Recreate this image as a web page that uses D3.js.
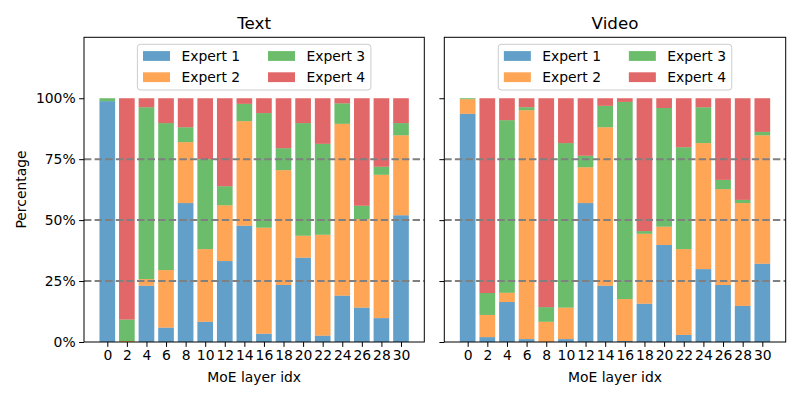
<!DOCTYPE html>
<html>
<head>
<meta charset="utf-8">
<script src="https://cdn.jsdelivr.net/npm/d3@7"></script>
<style>
  body { margin: 0; background: #fff; }
  svg { font-family: "DejaVu Sans", sans-serif; }
</style>
</head>
<body>
<script>
var layers = [0, 2, 4, 6, 8, 10, 12, 14, 16, 18, 20, 22, 24, 26, 28, 30];
var experts = ['Expert 1', 'Expert 2', 'Expert 3', 'Expert 4'];
var colors = ['#1f77b4', '#ff7f0e', '#2ca02c', '#d62728'];
var yTicks = [0, 25, 50, 75, 100];
var refLines = [25, 50, 75];

// percentages
var textE1 = [98.8, 0, 23.1, 5.9, 57.0, 8.3, 33.2, 47.7, 3.4, 23.4, 34.6, 2.6, 19.0, 14.1, 9.8, 52.0];
var textE2 = [0, 0.4, 2.7, 23.6, 25.0, 29.8, 22.9, 42.9, 43.5, 47.1, 9.0, 41.4, 70.5, 36.3, 58.8, 32.8];
var textE3 = [1.2, 8.8, 70.5, 60.3, 6.1, 36.9, 7.8, 7.1, 47.0, 9.0, 46.2, 37.3, 8.4, 5.5, 3.3, 5.0];
var textE4 = [0, 90.8, 3.7, 10.2, 11.9, 25.0, 36.1, 2.3, 6.1, 20.5, 10.2, 18.7, 2.1, 44.1, 28.1, 10.2];

var videoE1 = [93.6, 2.0, 16.4, 1.2, 0, 1.2, 57.0, 23.1, 0.4, 15.7, 39.8, 2.9, 29.9, 23.4, 14.8, 32.1];
var videoE2 = [6.0, 9.1, 3.8, 93.9, 8.3, 12.9, 14.7, 65.0, 17.2, 28.7, 7.5, 35.2, 51.7, 39.3, 42.2, 52.7];
var videoE3 = [0.4, 9.0, 70.8, 1.2, 6.0, 67.5, 4.7, 8.8, 80.9, 1.1, 48.7, 41.8, 14.7, 3.8, 1.3, 1.4];
var videoE4 = [0, 79.9, 9.0, 3.7, 85.7, 18.4, 23.6, 3.1, 1.5, 54.5, 4.0, 20.1, 3.7, 33.5, 41.7, 13.8];

var width = 800, height = 400;
var plotTop = 37.3, plotBottom = 342;

var svg = d3.select('body').append('svg')
    .attr('width', width)
    .attr('height', height);

var y = d3.scaleLinear().domain([0, 125]).range([plotBottom, plotTop]);

function rows(series) {
    return layers.map(function (l, i) {
        var r = { layer: l, idx: i };
        experts.forEach(function (e, k) { r[e] = series[k][i]; });
        return r;
    });
}

function panel(left, right, title, series, showLabels) {
    var g = svg.append('g');
    var x = d3.scaleLinear().domain([-1.19, 16.19]).range([left, right]);
    var bw = x(0.8) - x(0);

    var stack = d3.stack().keys(experts)(rows(series));

    stack.forEach(function (layer, k) {
        g.append('g')
            .attr('fill', colors[k])
            .attr('fill-opacity', 0.7)
            .selectAll('rect')
            .data(layer)
            .join('rect')
            .attr('x', function (d) { return x(d.data.idx) - bw / 2; })
            .attr('width', bw)
            .attr('y', function (d) { return y(d[1]); })
            .attr('height', function (d) { return y(d[0]) - y(d[1]); });
    });

    g.selectAll('line.ref')
        .data(refLines)
        .join('line')
        .attr('class', 'ref')
        .attr('x1', left).attr('x2', right)
        .attr('y1', function (d) { return y(d); })
        .attr('y2', function (d) { return y(d); })
        .attr('stroke', '#808080')
        .attr('stroke-width', 2)
        .attr('stroke-dasharray', '7.4,3.2');

    // frame
    g.append('rect')
        .attr('x', left).attr('y', plotTop)
        .attr('width', right - left).attr('height', plotBottom - plotTop)
        .attr('fill', 'none').attr('stroke', '#000').attr('stroke-width', 1);

    var xAxis = d3.axisBottom(x)
        .tickValues(d3.range(layers.length))
        .tickFormat(function (i) { return layers[i]; })
        .tickSize(4.9).tickPadding(3.5);
    var xg = g.append('g').attr('transform', 'translate(0,' + plotBottom + ')').call(xAxis);
    xg.select('.domain').remove();
    xg.selectAll('text').attr('font-size', 13.9).attr('fill', '#000')
        .attr('font-family', 'DejaVu Sans');
    xg.selectAll('line').attr('stroke', '#000');

    var yAxis = d3.axisLeft(y)
        .tickValues(yTicks)
        .tickFormat(function (d) { return showLabels ? d + '%' : ''; })
        .tickSize(4.9).tickPadding(3.5);
    var yg = g.append('g').attr('transform', 'translate(' + left + ',0)').call(yAxis);
    yg.select('.domain').remove();
    yg.selectAll('text').attr('font-size', 13.9).attr('fill', '#000')
        .attr('font-family', 'DejaVu Sans');
    yg.selectAll('line').attr('stroke', '#000');

    var cx = (left + right) / 2;
    g.append('text')
        .attr('x', cx).attr('y', 29)
        .attr('text-anchor', 'middle')
        .attr('font-size', 16.7)
        .text(title);

    g.append('text')
        .attr('x', cx).attr('y', 382)
        .attr('text-anchor', 'middle')
        .attr('font-size', 13.9)
        .text('MoE layer idx');

    // legend
    var lw = 233.5, lh = 45.7;
    var lg = g.append('g').attr('transform', 'translate(' + (cx - lw / 2) + ',44.3)');
    lg.append('rect')
        .attr('width', lw).attr('height', lh)
        .attr('rx', 3).attr('ry', 3)
        .attr('fill', '#fff').attr('fill-opacity', 0.8)
        .attr('stroke', '#cccccc').attr('stroke-width', 1);
    var items = lg.selectAll('g.item')
        .data(experts)
        .join('g')
        .attr('class', 'item')
        .attr('transform', function (d, i) {
            var col = Math.floor(i / 2), row = i % 2;
            return 'translate(' + (5.6 + col * 125) + ',' + (6.8 + row * 21.2) + ')';
        });
    items.append('rect')
        .attr('width', 27).attr('height', 9.8)
        .attr('fill', function (d, i) { return colors[i]; })
        .attr('fill-opacity', 0.7);
    items.append('text')
        .attr('x', 38.4).attr('y', 10)
        .attr('font-size', 13.9)
        .text(function (d) { return d; });
}

panel(84, 424.3, 'Text', [textE1, textE2, textE3, textE4], true);
panel(444.3, 785.7, 'Video', [videoE1, videoE2, videoE3, videoE4], false);

svg.append('text')
    .attr('transform', 'translate(26,189.5) rotate(-90)')
    .attr('text-anchor', 'middle')
    .attr('font-size', 13.9)
    .text('Percentage');
</script>
</body>
</html>
